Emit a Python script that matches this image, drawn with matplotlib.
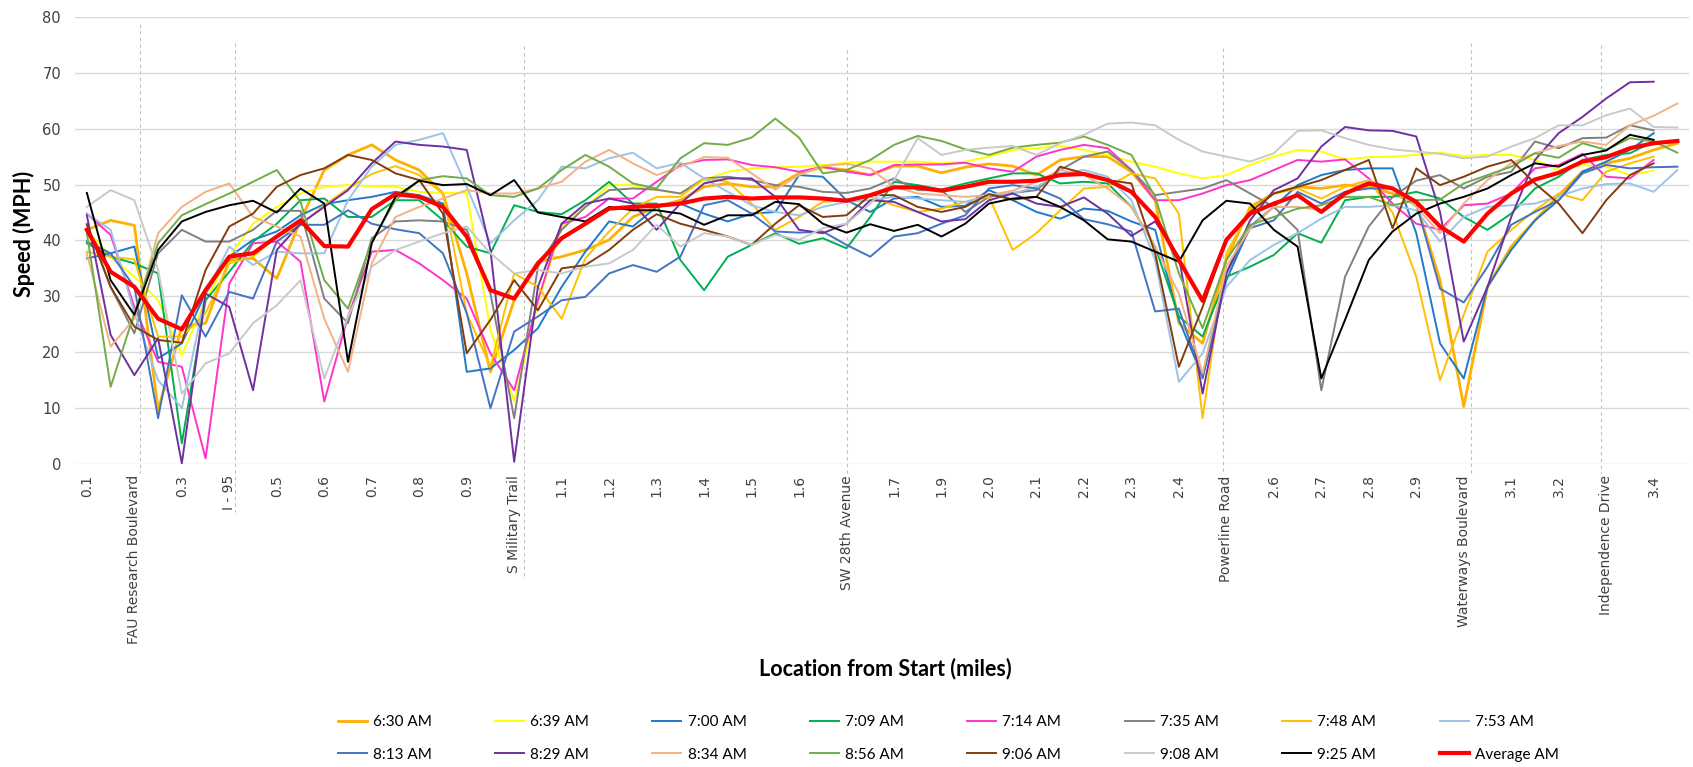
import numpy as np
import matplotlib
matplotlib.use("Agg")
import matplotlib.pyplot as plt

# speed (mph) at each 0.05 mile point along the corridor, one list per run
t0630 = [41.9, 43.6, 42.7, 9.7, 24.6, 25.2, 36.5, 36.8, 33.2, 43.6, 52.6, 55.3, 57.1, 54.4,
         52.6, 48.4, 34.1, 16.5, 29.3, 36.2, 37.1, 38.3, 40.1, 44.2, 46.0, 47.2, 49.6, 50.2,
         49.6, 49.6, 52.0, 53.1, 52.6, 51.7, 53.3, 53.3, 52.1, 53.1, 53.7, 53.3, 51.7, 54.4,
         55.0, 55.0, 52.3, 47.2, 25.2, 21.6, 36.5, 46.0, 48.4, 49.6, 49.3, 49.9, 49.6, 48.4,
         46.6, 32.9, 10.3, 31.7, 38.9, 43.6, 48.1, 52.3, 53.8, 54.7, 56.2, 57.4]
t0639 = [41.9, 37.1, 33.5, 29.3, 19.5, 29.3, 37.1, 43.0, 46.0, 48.4, 49.6, 49.9, 49.7, 49.6,
         48.7, 48.5, 48.5, 24.0, 11.2, 28.7, 42.5, 46.0, 49.9, 49.9, 49.0, 48.4, 50.8, 52.3,
         52.9, 53.1, 53.2, 53.5, 53.9, 54.1, 54.1, 54.1, 53.8, 54.1, 55.0, 56.2, 56.5, 56.9,
         56.2, 55.3, 54.1, 53.2, 52.0, 51.1, 51.7, 53.5, 55.0, 56.2, 55.9, 54.5, 54.9, 55.0,
         55.3, 55.7, 55.1, 55.3, 55.3, 54.4, 52.6, 53.5, 53.2, 51.7, 52.5]
t0700 = [39.8, 37.7, 38.9, 18.9, 21.6, 30.5, 37.1, 40.1, 41.6, 44.5, 46.5, 47.2, 47.8, 48.7,
         48.1, 46.6, 16.5, 17.1, 20.4, 24.3, 31.7, 38.0, 43.4, 42.5, 46.0, 46.6, 44.8, 43.4,
         44.8, 45.1, 51.7, 51.4, 47.2, 45.1, 47.5, 47.8, 46.0, 46.2, 49.0, 47.2, 45.1, 43.9,
         45.7, 45.3, 43.4, 41.9, 25.8, 15.6, 32.9, 42.5, 46.0, 49.9, 51.7, 52.6, 52.9, 52.9,
         41.3, 21.6, 15.3, 31.7, 38.3, 43.6, 47.2, 52.3, 54.1, 56.2, 59.2]
t0709 = [39.5, 37.1, 35.9, 34.1, 3.7, 29.3, 34.4, 39.8, 43.0, 47.2, 47.5, 44.2, 44.2, 47.2,
         47.2, 43.6, 38.9, 37.7, 46.3, 45.1, 44.7, 47.2, 50.5, 46.6, 46.6, 36.5, 31.1, 37.1,
         39.2, 41.3, 39.4, 40.4, 38.6, 44.2, 50.5, 49.9, 49.1, 50.2, 51.1, 52.0, 52.0, 50.2,
         50.5, 50.2, 46.0, 38.9, 26.4, 22.8, 33.5, 35.3, 37.4, 41.3, 39.6, 47.2, 47.8, 47.8,
         48.7, 47.5, 44.2, 41.9, 44.8, 49.3, 51.4, 54.4, 55.3, 55.6, 57.7]
t0714 = [44.8, 41.0, 28.1, 18.3, 17.4, 1.0, 32.3, 39.5, 39.8, 36.2, 11.2, 26.4, 38.0, 38.3,
         35.9, 32.9, 29.6, 19.8, 13.2, 29.3, 43.0, 44.2, 47.5, 47.5, 50.5, 53.5, 54.4, 54.5,
         53.5, 53.1, 52.3, 53.2, 52.3, 51.7, 53.5, 53.6, 53.6, 53.9, 52.9, 52.3, 55.0, 56.2,
         57.1, 56.5, 52.6, 47.2, 47.2, 48.4, 49.9, 50.8, 52.6, 54.4, 54.1, 54.5, 51.1, 46.6,
         43.0, 41.9, 46.3, 46.6, 48.4, 52.9, 53.5, 55.5, 51.4, 51.1, 54.4]
t0735 = [43.0, 31.7, 23.4, 37.7, 41.9, 39.8, 39.8, 41.9, 45.3, 45.3, 29.6, 25.2, 40.4, 43.4,
         43.6, 43.4, 41.9, 30.5, 8.2, 35.3, 41.9, 46.0, 49.0, 49.3, 49.1, 48.4, 51.1, 51.4,
         50.8, 49.9, 49.6, 48.7, 48.5, 49.3, 51.1, 49.0, 49.0, 45.1, 47.8, 48.5, 49.0, 52.6,
         55.0, 55.9, 52.6, 48.1, 48.7, 49.3, 50.8, 48.4, 46.0, 41.9, 13.2, 33.5, 42.5, 47.8,
         50.7, 51.7, 49.3, 51.4, 52.3, 57.7, 56.5, 58.3, 58.4, 60.6, 59.7]
t0748 = [38.0, 37.1, 36.6, 22.8, 22.8, 27.0, 35.9, 37.1, 40.7, 42.8, 46.3, 49.3, 51.9, 53.3,
         51.7, 48.4, 27.0, 17.4, 34.1, 31.7, 26.0, 36.8, 41.6, 45.7, 47.8, 47.8, 51.1, 50.5,
         46.6, 41.9, 44.2, 46.9, 47.2, 47.8, 46.3, 45.1, 45.7, 46.9, 47.8, 38.3, 41.3, 45.4,
         49.3, 49.6, 52.0, 51.1, 44.8, 8.2, 37.7, 45.4, 48.4, 49.3, 47.5, 49.6, 50.8, 45.0,
         33.5, 15.0, 26.7, 38.0, 41.9, 45.4, 48.4, 47.2, 52.3, 53.8, 55.0]
t0753 = [44.8, 41.9, 27.0, 15.0, 10.0, 30.5, 38.9, 35.6, 38.0, 37.7, 37.7, 47.2, 53.2, 57.1,
         58.0, 59.2, 49.6, 39.5, 43.6, 47.2, 53.2, 52.9, 54.7, 55.7, 52.9, 53.9, 51.1, 48.7,
         46.3, 45.1, 44.5, 46.0, 46.9, 47.2, 47.8, 47.5, 47.2, 46.9, 48.1, 48.4, 49.6, 52.0,
         52.6, 51.4, 47.2, 36.5, 14.7, 19.8, 31.7, 36.5, 39.2, 41.3, 43.9, 46.0, 46.0, 46.3,
         45.4, 39.8, 44.2, 46.0, 46.3, 46.6, 47.9, 49.3, 50.1, 50.2, 48.7, 52.6]
t0813 = [36.8, 37.7, 31.7, 8.2, 30.2, 22.8, 30.8, 29.6, 39.8, 42.8, 42.8, 45.4, 43.0, 42.0,
         41.3, 37.7, 27.0, 10.0, 23.7, 26.4, 29.3, 29.9, 34.1, 35.6, 34.4, 37.1, 46.3, 47.2,
         44.8, 41.6, 41.4, 41.6, 39.2, 37.1, 40.7, 41.3, 43.0, 44.5, 49.3, 49.9, 49.3, 47.5,
         43.8, 42.9, 41.6, 27.3, 27.8, 15.3, 34.1, 42.2, 43.6, 48.7, 46.6, 48.7, 49.3, 49.3,
         46.6, 31.4, 28.9, 35.3, 42.8, 45.1, 47.2, 52.0, 53.5, 52.9, 53.1, 53.2]
t0829 = [44.5, 23.1, 15.9, 22.5, 0.1, 30.5, 28.1, 13.2, 38.3, 43.0, 46.0, 49.0, 53.8, 57.7,
         57.1, 56.8, 56.2, 38.3, 0.4, 31.7, 43.0, 46.6, 47.5, 46.6, 41.9, 46.6, 50.2, 51.1,
         51.1, 47.8, 41.9, 41.3, 43.0, 47.2, 46.9, 45.1, 43.4, 43.8, 47.2, 48.4, 46.6, 46.0,
         47.7, 44.8, 40.8, 43.4, 37.1, 12.6, 34.1, 43.6, 49.0, 51.1, 56.8, 60.3, 59.7, 59.6,
         58.6, 45.1, 21.9, 31.7, 44.2, 54.4, 59.2, 62.1, 65.4, 68.3, 68.4]
t0834 = [37.7, 21.0, 26.0, 41.3, 46.0, 48.7, 50.2, 44.2, 42.5, 40.7, 26.0, 16.5, 35.9, 44.2,
         46.0, 47.5, 49.0, 48.4, 48.4, 49.3, 50.5, 54.1, 56.2, 53.8, 51.7, 53.2, 54.9, 54.8,
         52.0, 49.1, 51.7, 53.3, 53.7, 52.9, 49.6, 48.4, 48.1, 47.8, 48.1, 48.9, 50.5, 52.6,
         51.7, 49.3, 46.0, 38.9, 30.5, 16.2, 35.3, 42.2, 46.0, 46.0, 45.4, 48.4, 50.8, 49.3,
         46.0, 41.3, 46.6, 50.8, 53.8, 55.6, 56.9, 57.7, 57.1, 60.6, 62.3, 64.5]
t0856 = [41.3, 13.8, 27.0, 39.5, 44.5, 46.5, 48.4, 50.5, 52.6, 46.9, 32.9, 27.8, 39.8, 47.2,
         50.8, 51.5, 51.1, 48.1, 47.8, 49.3, 52.6, 55.3, 53.2, 50.2, 49.3, 54.7, 57.4, 57.1,
         58.4, 61.8, 58.4, 52.0, 52.6, 54.4, 57.1, 58.7, 57.8, 56.3, 55.3, 56.6, 57.1, 57.5,
         58.6, 57.1, 55.3, 47.8, 34.1, 24.3, 36.5, 42.8, 44.2, 45.7, 46.3, 47.8, 47.8, 46.3,
         47.2, 47.3, 50.2, 51.7, 53.2, 55.6, 54.8, 57.4, 56.2, 58.3, 57.7, 55.7]
t0906 = [42.8, 31.7, 24.6, 22.2, 21.7, 34.7, 42.5, 44.8, 49.6, 51.7, 52.9, 55.3, 54.4, 52.0,
         50.8, 44.8, 19.8, 25.8, 32.9, 27.5, 35.0, 35.6, 38.3, 41.9, 44.7, 43.0, 41.9, 40.7,
         39.2, 43.0, 46.3, 44.2, 44.5, 48.1, 48.1, 46.0, 45.1, 46.0, 48.3, 47.3, 47.8, 53.2,
         52.0, 50.8, 50.2, 37.7, 17.4, 28.1, 40.1, 45.1, 48.4, 49.6, 50.8, 52.6, 54.4, 42.2,
         52.9, 49.9, 51.4, 53.2, 54.4, 50.2, 46.6, 41.3, 47.2, 51.7, 53.8]
t0908 = [46.0, 49.0, 47.2, 34.7, 12.6, 18.0, 19.8, 25.2, 28.4, 32.9, 15.3, 26.4, 35.3, 38.3,
         39.8, 41.3, 42.5, 37.7, 34.1, 34.7, 34.1, 35.3, 35.9, 38.3, 42.8, 38.9, 41.3, 40.7,
         39.2, 41.0, 40.1, 42.2, 43.0, 46.6, 50.8, 58.3, 55.3, 56.2, 56.6, 56.9, 55.3, 57.4,
         58.9, 60.9, 61.1, 60.6, 58.0, 55.9, 55.0, 54.1, 55.6, 59.6, 59.7, 58.3, 57.1, 56.3,
         55.9, 55.5, 54.7, 55.0, 56.8, 58.3, 60.6, 60.6, 62.4, 63.6, 60.3, 60.2]
t0925 = [48.5, 32.9, 26.7, 38.3, 43.4, 45.1, 46.3, 47.1, 45.0, 49.3, 46.6, 18.3, 39.5, 47.8,
         50.7, 49.9, 50.1, 48.1, 50.8, 45.0, 44.2, 43.4, 46.0, 45.4, 45.4, 44.8, 42.8, 44.5,
         44.5, 46.9, 46.5, 43.0, 41.4, 42.9, 41.7, 42.8, 40.7, 43.0, 46.6, 47.5, 47.8, 46.0,
         43.6, 40.2, 39.8, 38.0, 36.2, 43.6, 47.1, 46.6, 41.9, 38.9, 15.3, 25.8, 36.5, 41.6,
         44.8, 46.6, 47.8, 49.3, 51.7, 53.8, 53.2, 55.3, 56.1, 58.9, 58.0]
avg_am = [41.9, 34.4, 31.7, 26.0, 24.1, 31.1, 37.1, 37.7, 40.7, 43.6, 39.0, 38.9, 45.6, 48.3,
          47.8, 46.0, 40.7, 31.1, 29.6, 35.9, 40.4, 43.0, 45.7, 46.0, 46.2, 46.6, 47.5, 47.8,
          47.5, 47.7, 47.7, 47.5, 47.1, 48.1, 49.5, 49.5, 48.9, 49.6, 50.5, 50.5, 50.7, 51.7,
          51.9, 50.8, 48.7, 44.2, 36.5, 29.2, 40.1, 44.8, 46.6, 48.1, 45.1, 48.4, 50.2, 49.3,
          46.9, 42.5, 39.8, 44.8, 48.4, 50.9, 52.1, 54.1, 54.9, 56.5, 57.4, 57.8]

run_names = ["6:30 AM", "6:39 AM", "7:00 AM", "7:09 AM", "7:14 AM", "7:35 AM", "7:48 AM", "7:53 AM",
             "8:13 AM", "8:29 AM", "8:34 AM", "8:56 AM", "9:06 AM", "9:08 AM", "9:25 AM"]
runs = [t0630, t0639, t0700, t0709, t0714, t0735, t0748, t0753,
        t0813, t0829, t0834, t0856, t0906, t0908, t0925]
colors = ["#FFB000", "#FFFF00", "#1F7AC8", "#00B050", "#FF33CC", "#808080", "#FFC000", "#9DC3E6",
          "#4472C4", "#7030A0", "#F4B183", "#70AD47", "#843C0C", "#C9C9C9", "#000000"]

# labels shown on every second point
tick_labels = ["0.1", "FAU Research Boulevard", "0.3", "I - 95", "0.5", "0.6", "0.7", "0.8", "0.9",
               "S Military Trail", "1.1", "1.2", "1.3", "1.4", "1.5", "1.6", "SW 28th Avenue",
               "1.7", "1.9", "2.0", "2.1", "2.2", "2.3", "2.4", "Powerline Road", "2.6", "2.7",
               "2.8", "2.9", "Waterways Boulevard", "3.1", "3.2", "Independence Drive", "3.4"]

# cross streets (point index) with the top of their marker line
cross_pos = [2.25, 6.25, 18.4, 32.0, 47.85, 58.3, 63.8]
cross_top = [78.8, 75.3, 74.7, 74.1, 74.4, 75.3, 75.0]
cross_drop = [0.02, 0.107, 0.253, 0.02, 0.02, 0.02, 0.02]

title_font = ["Lato", "DejaVu Sans"]

fig = plt.figure(figsize=(16.93, 7.67), dpi=100)
ax = fig.add_axes([0.0443, 0.395, 0.9535, 0.583])

n = len(avg_am)
for name, vals, c in zip(run_names, runs, colors):
    lw = 2.0 if name == "6:30 AM" else 1.4
    ax.plot(np.arange(len(vals)), vals, color=c, lw=lw, label=name, zorder=3)
ax.plot(np.arange(n), avg_am, color="#FF0000", lw=3.0, label="Average AM", zorder=4)

trans = ax.get_xaxis_transform()
for xp, top, drop in zip(cross_pos, cross_top, cross_drop):
    ax.plot([xp, xp], [top / 80.0, -drop], transform=trans, color="#BFBFBF",
            lw=0.8, ls=(0, (3, 3)), clip_on=False, zorder=1)

ax.set_xlim(-0.5, 67.5)
ax.set_ylim(0, 80)
ax.set_yticks(np.arange(0, 81, 10))
ax.set_xticks(np.arange(0, 2 * len(tick_labels), 2))
ax.set_xticklabels(tick_labels, rotation=90, fontsize=10, color="#404040")
ax.tick_params(axis="y", labelsize=10.5, colors="#404040", length=0, pad=10)
ax.tick_params(axis="x", length=0, pad=8)
ax.grid(axis="y", color="#D9D9D9", lw=1.0, zorder=0)
for s in ax.spines.values():
    s.set_visible(False)

fig.text(0.014, 0.695, "Speed (MPH)", rotation=90, ha="center", va="center",
         fontsize=15.5, fontweight="bold", family=title_font)
fig.text(0.523, 0.128, "Location from Start (miles)", ha="center", va="center",
         fontsize=15.5, fontweight="bold", family=title_font)

# legend is filled row by row, 8 per row
handles, labels = ax.get_legend_handles_labels()
order = []
for k in range(8):
    order += [k, k + 8]
fig.legend([handles[k] for k in order], [labels[k] for k in order],
           loc="center", bbox_to_anchor=(0.56, 0.037), ncol=8, frameon=False,
           prop={"family": title_font, "size": 11}, handlelength=1.9, handletextpad=0.4,
           columnspacing=4.15, labelspacing=1.2)

fig.savefig("out.png", dpi=100)
